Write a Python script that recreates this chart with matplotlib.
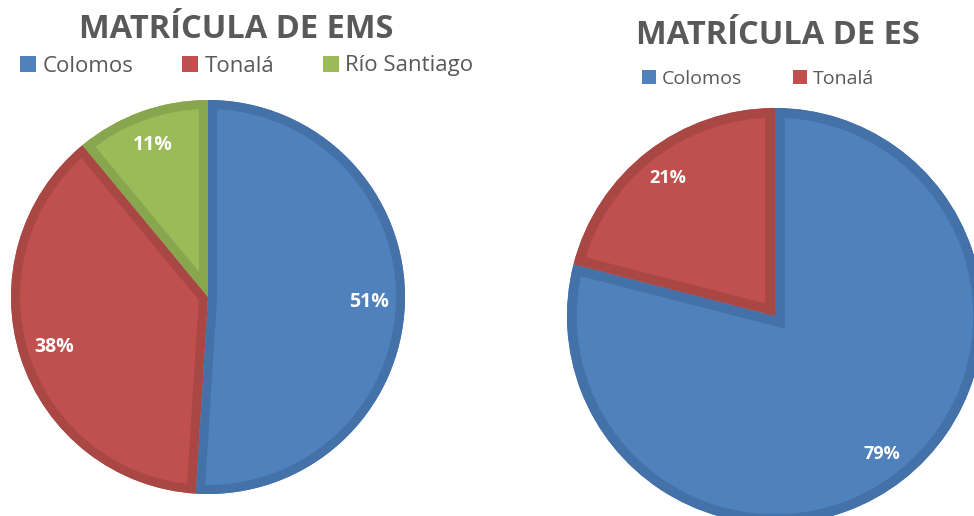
import matplotlib
matplotlib.use("Agg")
import matplotlib.pyplot as plt
from matplotlib.patches import Patch, PathPatch

# Data
ems_categories = ["Colomos", "Tonalá", "Río Santiago"]
ems_values = [51, 38, 11]
es_categories = ["Colomos", "Tonalá"]
es_values = [79, 21]
title_ems = "MATRÍCULA DE EMS"
title_es = "MATRÍCULA DE ES"

fills = ["#4F81BD", "#C0504D", "#9BBB59"]
edges = ["#4371A8", "#A94744", "#87A64D"]
gray = "#595959"

W, H = 974, 516
fig = plt.figure(figsize=(W / 100, H / 100), dpi=100)
ax = fig.add_axes([0, 0, 1, 1])
plt.rcParams['font.family'] = ['Open Sans', 'DejaVu Sans']


def draw_pie(values, center, radius, border_pt, fs, pctd):
    wedges, texts, autotexts = ax.pie(
        values, colors=fills[:len(values)], startangle=90, counterclock=False,
        center=center, radius=radius, autopct='%1.0f%%', pctdistance=pctd,
        textprops=dict(color='white', fontweight='bold', fontsize=fs),
        wedgeprops=dict(linewidth=0, edgecolor='none'))
    for w, ec in zip(wedges, edges):
        border = PathPatch(w.get_path(), transform=w.get_transform(),
                           facecolor='none', edgecolor=ec, linewidth=border_pt,
                           joinstyle='miter', zorder=w.get_zorder() + 0.5)
        ax.add_patch(border)
        border.set_clip_path(w)
    for t in autotexts:
        t.set_zorder(5)
    return wedges


draw_pie(ems_values, (208, H - 297), 197, 13, 14, 0.82)
draw_pie(es_values, (775, H - 316), 208, 14, 13, 0.84)

ax.set_xlim(0, W)
ax.set_ylim(0, H)
ax.set_aspect('auto')
ax.axis('off')

ax.text(236, H - 29, title_ems, ha='center', va='center', fontsize=23.5,
        fontweight='bold', color=gray)
ax.text(778, H - 36, title_es, ha='center', va='center', fontsize=23.5,
        fontweight='bold', color=gray)

h1 = [Patch(facecolor=c, edgecolor='none') for c in fills[:3]]
leg1 = ax.legend(h1, ems_categories, loc='center', bbox_to_anchor=(247, H - 66),
                 bbox_transform=ax.transData, ncol=3, frameon=False, fontsize=16,
                 handlelength=0.7, handleheight=0.7, handletextpad=0.3,
                 columnspacing=2.2, borderpad=0, labelcolor=gray)
ax.add_artist(leg1)
h2 = [Patch(facecolor=c, edgecolor='none') for c in fills[:2]]
ax.legend(h2, es_categories, loc='center', bbox_to_anchor=(758, H - 79),
          bbox_transform=ax.transData, ncol=2, frameon=False, fontsize=14,
          handlelength=0.75, handleheight=0.75, handletextpad=0.3,
          columnspacing=2.6, borderpad=0, labelcolor=gray)

fig.savefig("out.png", dpi=100)
